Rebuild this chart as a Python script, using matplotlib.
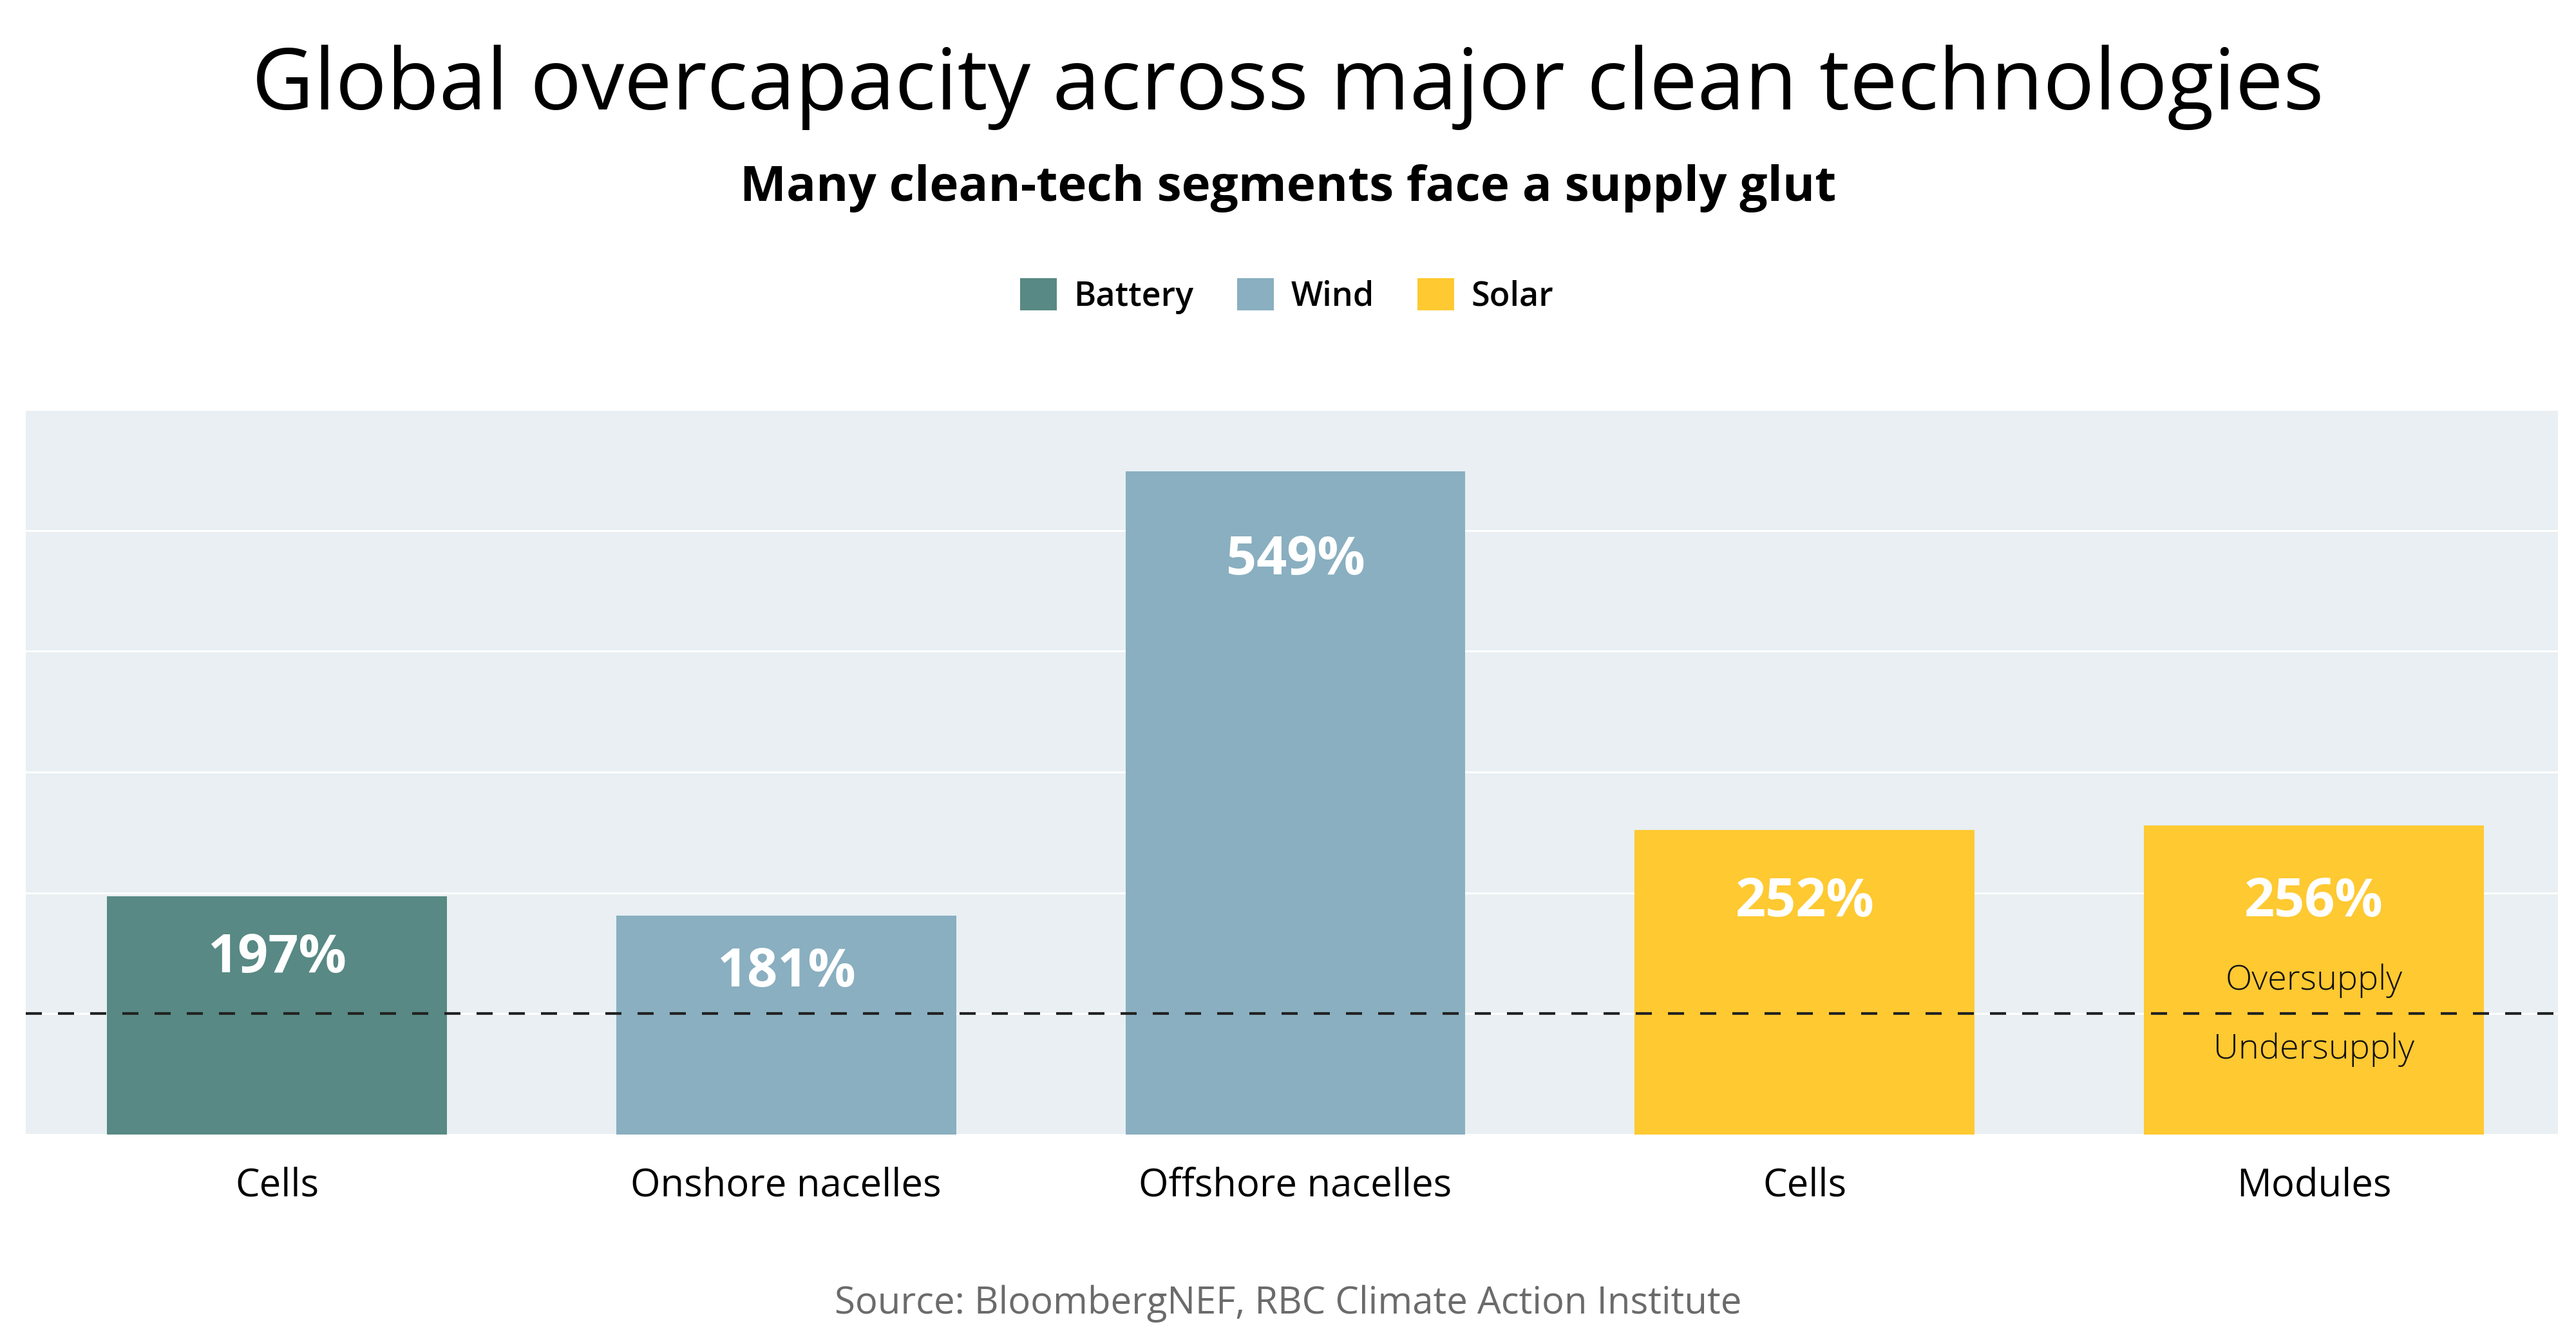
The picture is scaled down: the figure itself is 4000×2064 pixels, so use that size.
import matplotlib
matplotlib.use("Agg")
import matplotlib.pyplot as plt
from matplotlib.patches import Patch

categories = ["Cells", "Onshore nacelles", "Offshore nacelles", "Cells", "Modules"]
groups = ["Battery", "Wind", "Wind", "Solar", "Solar"]
values = [197, 181, 549, 252, 256]
value_labels = ["197%", "181%", "549%", "252%", "256%"]
label_y = [146, 134, 475, 192, 192]
group_colors = {"Battery": "#588984", "Wind": "#89AFC0", "Solar": "#FEC931"}
yticks = [0, 100, 200, 300, 400, 500, 600]

FONT = ["Open Sans", "DejaVu Sans"]
plt.rcParams["font.family"] = FONT

fig = plt.figure(figsize=(40, 20.64), dpi=100)
ax = fig.add_axes([0.01, 0.1463, 0.983, 0.5456])
ax.set_facecolor("#E9EFF2")

x = list(range(len(categories)))
ax.bar(x, values, width=0.6675, color=[group_colors[g] for g in groups], zorder=2)
ax.set_xlim(-0.493, len(categories) - 0.521)
ax.set_ylim(0, 600)
ax.set_yticks(yticks)
ax.yaxis.grid(True, color="white", linewidth=2.2, zorder=1)
ax.set_axisbelow(True)
ax.tick_params(axis="y", left=False, labelleft=False)
ax.tick_params(axis="x", bottom=False, pad=32, labelsize=43)
ax.set_xticks(x)
ax.set_xticklabels(categories)
for s in ax.spines.values():
    s.set_visible(False)

ax.axhline(100, color="#222222", linewidth=3, linestyle=(0, (6, 6)), zorder=3)

for xi, lab, ly in zip(x, value_labels, label_y):
    ax.text(xi, ly, lab, ha="center", va="center", color="white",
            fontsize=59.5, fontweight="bold", zorder=4)

ax.text(x[-1], 127, "Oversupply", ha="center", va="center", fontsize=39,
        fontweight="light", color="#111111", zorder=4)
ax.text(x[-1], 70, "Undersupply", ha="center", va="center", fontsize=39,
        fontweight="light", color="#111111", zorder=4)

fig.text(0.5, 1 - 136 / 2064, "Global overcapacity across major clean technologies",
         ha="center", va="center", fontsize=95.4)
fig.text(0.5, 1 - 292 / 2064, "Many clean-tech segments face a supply glut",
         ha="center", va="center", fontsize=55, fontweight="bold")

handles = [Patch(facecolor=group_colors[g], edgecolor="none") for g in ["Battery", "Wind", "Solar"]]
leg = fig.legend(handles, ["Battery", "Wind", "Solar"], loc="center",
                 bbox_to_anchor=(0.4995, 1 - 460 / 2064), ncol=3, frameon=False,
                 prop={"size": 37.5, "weight": "semibold"}, handlelength=1.1,
                 handleheight=1.1, handletextpad=0.5, columnspacing=1.3)

fig.text(0.5, 1 - 2025 / 2064, "Source: BloombergNEF, RBC Climate Action Institute",
         ha="center", va="center", fontsize=41.9, color="#6B6B6B")

fig.savefig("out.png", dpi=100, facecolor="white")
